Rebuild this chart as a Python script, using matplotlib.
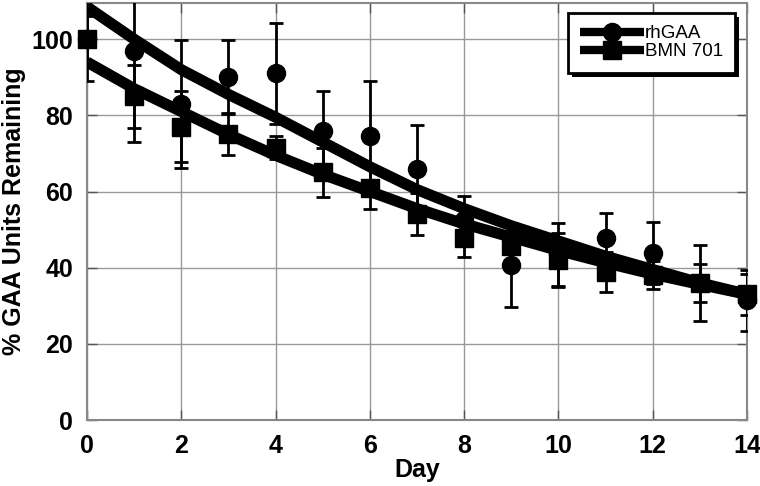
import matplotlib
matplotlib.use("Agg")
import matplotlib.pyplot as plt
from matplotlib.patches import Rectangle
import numpy as np

plt.rcParams['font.family'] = ['Liberation Sans', 'DejaVu Sans']

days = [0, 1, 2, 3, 4, 5, 6, 7, 8, 9, 10, 11, 12, 13, 14]

rhgaa_mean = [100, 97, 83, 90, 91, 76, 74.5, 66, 52.5, 40.7, 43.5, 47.8, 43.8, 36, 31.5]
rhgaa_err = [6, 24, 16.7, 9.7, 13.3, 10.3, 14.5, 11.5, 6.3, 11, 8.2, 6.5, 8.2, 5, 8]

bmn_mean = [100, 85, 77, 75, 71.5, 65, 61, 54, 47.8, 45.7, 42, 38.8, 38, 36, 33]
bmn_err = [11, 8.3, 9.3, 5.5, 3, 6.5, 5.5, 5.5, 5, 4, 7, 5.2, 3.7, 10, 5.3]

# fitted decay curves, read at each day
rhgaa_fit = [108.5, 100, 92, 85.5, 79.5, 73, 66.5, 60.5, 55.5, 51, 47, 43, 39.5, 36, 33]
bmn_fit = [94, 87, 81, 75, 69.5, 64.5, 60, 55.5, 51.5, 48, 44.5, 41.3, 38.3, 35.6, 33]

fig = plt.figure(figsize=(7.6, 4.86), dpi=100)
ax = fig.add_axes([0.1145, 0.1358, 0.8685, 0.858])

ax.errorbar(days, rhgaa_mean, yerr=rhgaa_err, fmt='none', ecolor='black',
            elinewidth=2, capsize=5, capthick=2, zorder=3)
ax.errorbar(days, bmn_mean, yerr=bmn_err, fmt='none', ecolor='black',
            elinewidth=2, capsize=5, capthick=2, zorder=3)

ax.plot(days, rhgaa_fit, color='black', lw=8, solid_capstyle='butt', zorder=4)
ax.plot(days, bmn_fit, color='black', lw=8, solid_capstyle='butt', zorder=4)

ax.plot(days, rhgaa_mean, 'o', color='black', ms=13, zorder=5, clip_on=False)
ax.plot(days, bmn_mean, 's', color='black', ms=13, zorder=5, clip_on=False)

# legend handles: thick line with marker
h1, = ax.plot([], [], color='black', lw=6, marker='o', ms=13, solid_capstyle='butt')
h2, = ax.plot([], [], color='black', lw=6, marker='s', ms=13, solid_capstyle='butt')
leg = ax.legend([h1, h2], ['rhGAA', 'BMN 701'], loc='upper right',
                bbox_to_anchor=(0.982, 0.976), borderaxespad=0,
                fancybox=False, framealpha=1,
                handlelength=3.4, handletextpad=0.05, labelspacing=0.05,
                borderpad=0.65, prop={'size': 13.5})
leg.get_frame().set_edgecolor('black')
leg.get_frame().set_linewidth(2)
leg.set_zorder(10)

ax.set_xlim(0, 14)
ax.set_ylim(0, 109.5)
ax.set_xticks(range(0, 15, 2))
ax.set_yticks(range(0, 101, 20))
ax.grid(True, color='#999999', lw=1)
ax.set_axisbelow(True)
ax.tick_params(direction='in', length=7, width=1, color='#555555',
               top=True, right=True, labelsize=18, pad=10)
for lab in ax.get_xticklabels() + ax.get_yticklabels():
    lab.set_fontweight('bold')
for sp in ax.spines.values():
    sp.set_color('#888888')
    sp.set_linewidth(1.5)

ax.set_xlabel('Day', fontsize=18, fontweight='bold', labelpad=0)
ax.set_ylabel('% GAA Units Remaining', fontsize=18, fontweight='bold', labelpad=4)

# drop shadow behind the legend box, offset a few pixels down-right
fig.canvas.draw()
bb = leg.get_frame().get_window_extent()
shadow = Rectangle((bb.x0 + 4, bb.y0 - 4), bb.width, bb.height, transform=None,
                   facecolor='black', edgecolor='none', zorder=9, clip_on=False)
ax.add_patch(shadow)

fig.savefig('out.png', dpi=100)
